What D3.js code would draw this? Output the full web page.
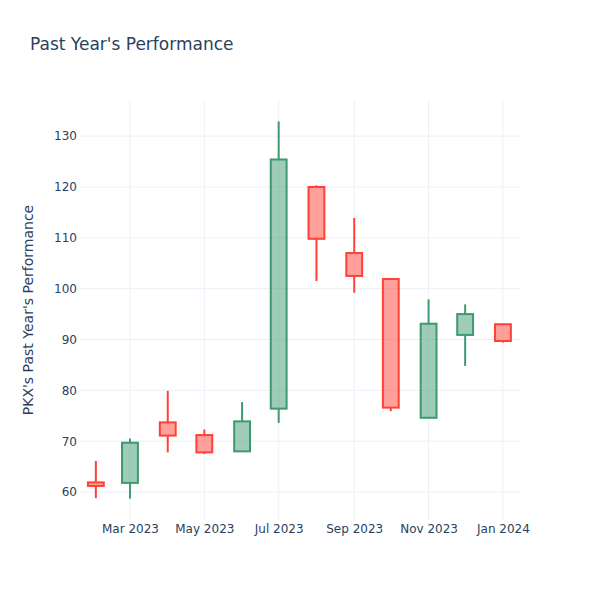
<!DOCTYPE html>
<html>
<head>
<meta charset="utf-8">
<script src="https://cdn.jsdelivr.net/npm/d3@7"></script>
<style>
  body { margin: 0; background: #fff; }
  svg { display: block; font-family: "DejaVu Sans", verdana, arial, sans-serif; }
</style>
</head>
<body>
<svg id="chart" width="600" height="600"></svg>
<script>
const dates = ["2023-02-01","2023-03-01","2023-04-01","2023-05-01","2023-06-01","2023-07-01",
               "2023-08-01","2023-09-01","2023-10-01","2023-11-01","2023-12-01","2024-01-01"];
const open  = [61.9, 61.8, 73.7, 71.2, 68.0, 76.4, 120.0, 107.0, 101.9, 74.6, 90.9, 93.0];
const high  = [66.1, 70.5, 79.9, 72.3, 77.7, 132.9, 120.3, 113.9, 102.1, 97.9, 96.9, 93.0];
const low   = [58.8, 58.7, 67.8, 67.5, 68.0, 73.6, 101.5, 99.2, 75.9, 74.6, 84.8, 89.4];
const close = [61.2, 69.7, 71.1, 67.8, 73.9, 125.4, 109.8, 102.5, 76.6, 93.1, 95.0, 89.7];
const yTicks = [60, 70, 80, 90, 100, 110, 120, 130];
const xTicks = ["2023-03-01","2023-05-01","2023-07-01","2023-09-01","2023-11-01","2024-01-01"];
const titleText = "Past Year's Performance";
const yTitleText = "PKX's Past Year's Performance";

const parse = d3.utcParse("%Y-%m-%d");
const data = dates.map((d, i) => ({date: parse(d), o: open[i], h: high[i], l: low[i], c: close[i]}));

const W = 600, H = 600, m = {l: 80, r: 80, t: 100, b: 80};
const svg = d3.select("#chart");

const x = d3.scaleUtc()
  .domain([parse("2023-01-19"), parse("2024-01-15")])
  .range([m.l, W - m.r]);
const y = d3.scaleLinear()
  .domain([54.5, 137.1])
  .range([H - m.b, m.t]);

// grid
const grid = svg.append("g");
grid.selectAll("line.h").data(yTicks).join("line")
  .attr("x1", m.l).attr("x2", W - m.r)
  .attr("y1", d => y(d)).attr("y2", d => y(d))
  .attr("stroke", "#EBF0F8").attr("stroke-width", 1);
grid.selectAll("line.v").data(xTicks.map(parse)).join("line")
  .attr("y1", m.t).attr("y2", H - m.b)
  .attr("x1", d => x(d)).attr("x2", d => x(d))
  .attr("stroke", "#EBF0F8").attr("stroke-width", 1);

// axes
const yAxis = d3.axisLeft(y).tickValues(yTicks).tickSize(0).tickPadding(3);
const gy = svg.append("g").attr("transform", `translate(${m.l},0)`).call(yAxis);
gy.select(".domain").remove();
gy.selectAll("text").attr("fill", "#2a3f5f").style("font-size", "12px")
  .style("font-family", "'DejaVu Sans', verdana, arial, sans-serif");

const fmt = d3.utcFormat("%b %Y");
const xAxis = d3.axisBottom(x).tickValues(xTicks.map(parse)).tickFormat(fmt).tickSize(0).tickPadding(4);
const gx = svg.append("g").attr("transform", `translate(0,${H - m.b})`).call(xAxis);
gx.select(".domain").remove();
gx.selectAll("text").attr("fill", "#2a3f5f").style("font-size", "12px")
  .style("font-family", "'DejaVu Sans', verdana, arial, sans-serif");

// candles
const halfDays = 6.5;
const inc = {line: "#3D9970", fill: "rgba(61,153,112,0.5)"};
const dec = {line: "#FF4136", fill: "rgba(255,65,54,0.5)"};
const g = svg.append("g");
data.forEach(d => {
  const col = d.c >= d.o ? inc : dec;
  const cx = x(d.date);
  const x0 = x(new Date(d.date.getTime() - halfDays * 864e5));
  const x1 = x(new Date(d.date.getTime() + halfDays * 864e5));
  const top = y(Math.max(d.o, d.c)), bot = y(Math.min(d.o, d.c));
  g.append("line").attr("x1", cx).attr("x2", cx).attr("y1", y(d.h)).attr("y2", top)
    .attr("stroke", col.line).attr("stroke-width", 2);
  g.append("line").attr("x1", cx).attr("x2", cx).attr("y1", bot).attr("y2", y(d.l))
    .attr("stroke", col.line).attr("stroke-width", 2);
  g.append("rect").attr("x", x0).attr("y", top).attr("width", x1 - x0).attr("height", Math.max(bot - top, 0.5))
    .attr("fill", col.fill).attr("stroke", col.line).attr("stroke-width", 2);
});

// titles
svg.append("text").attr("x", 30).attr("y", 50).text(titleText)
  .attr("fill", "#2a3f5f").style("font-size", "17px");
svg.append("text")
  .attr("transform", `translate(33,${m.t + (H - m.t - m.b) / 2}) rotate(-90)`)
  .attr("text-anchor", "middle").text(yTitleText)
  .attr("fill", "#2a3f5f").style("font-size", "14px");
</script>
</body>
</html>
